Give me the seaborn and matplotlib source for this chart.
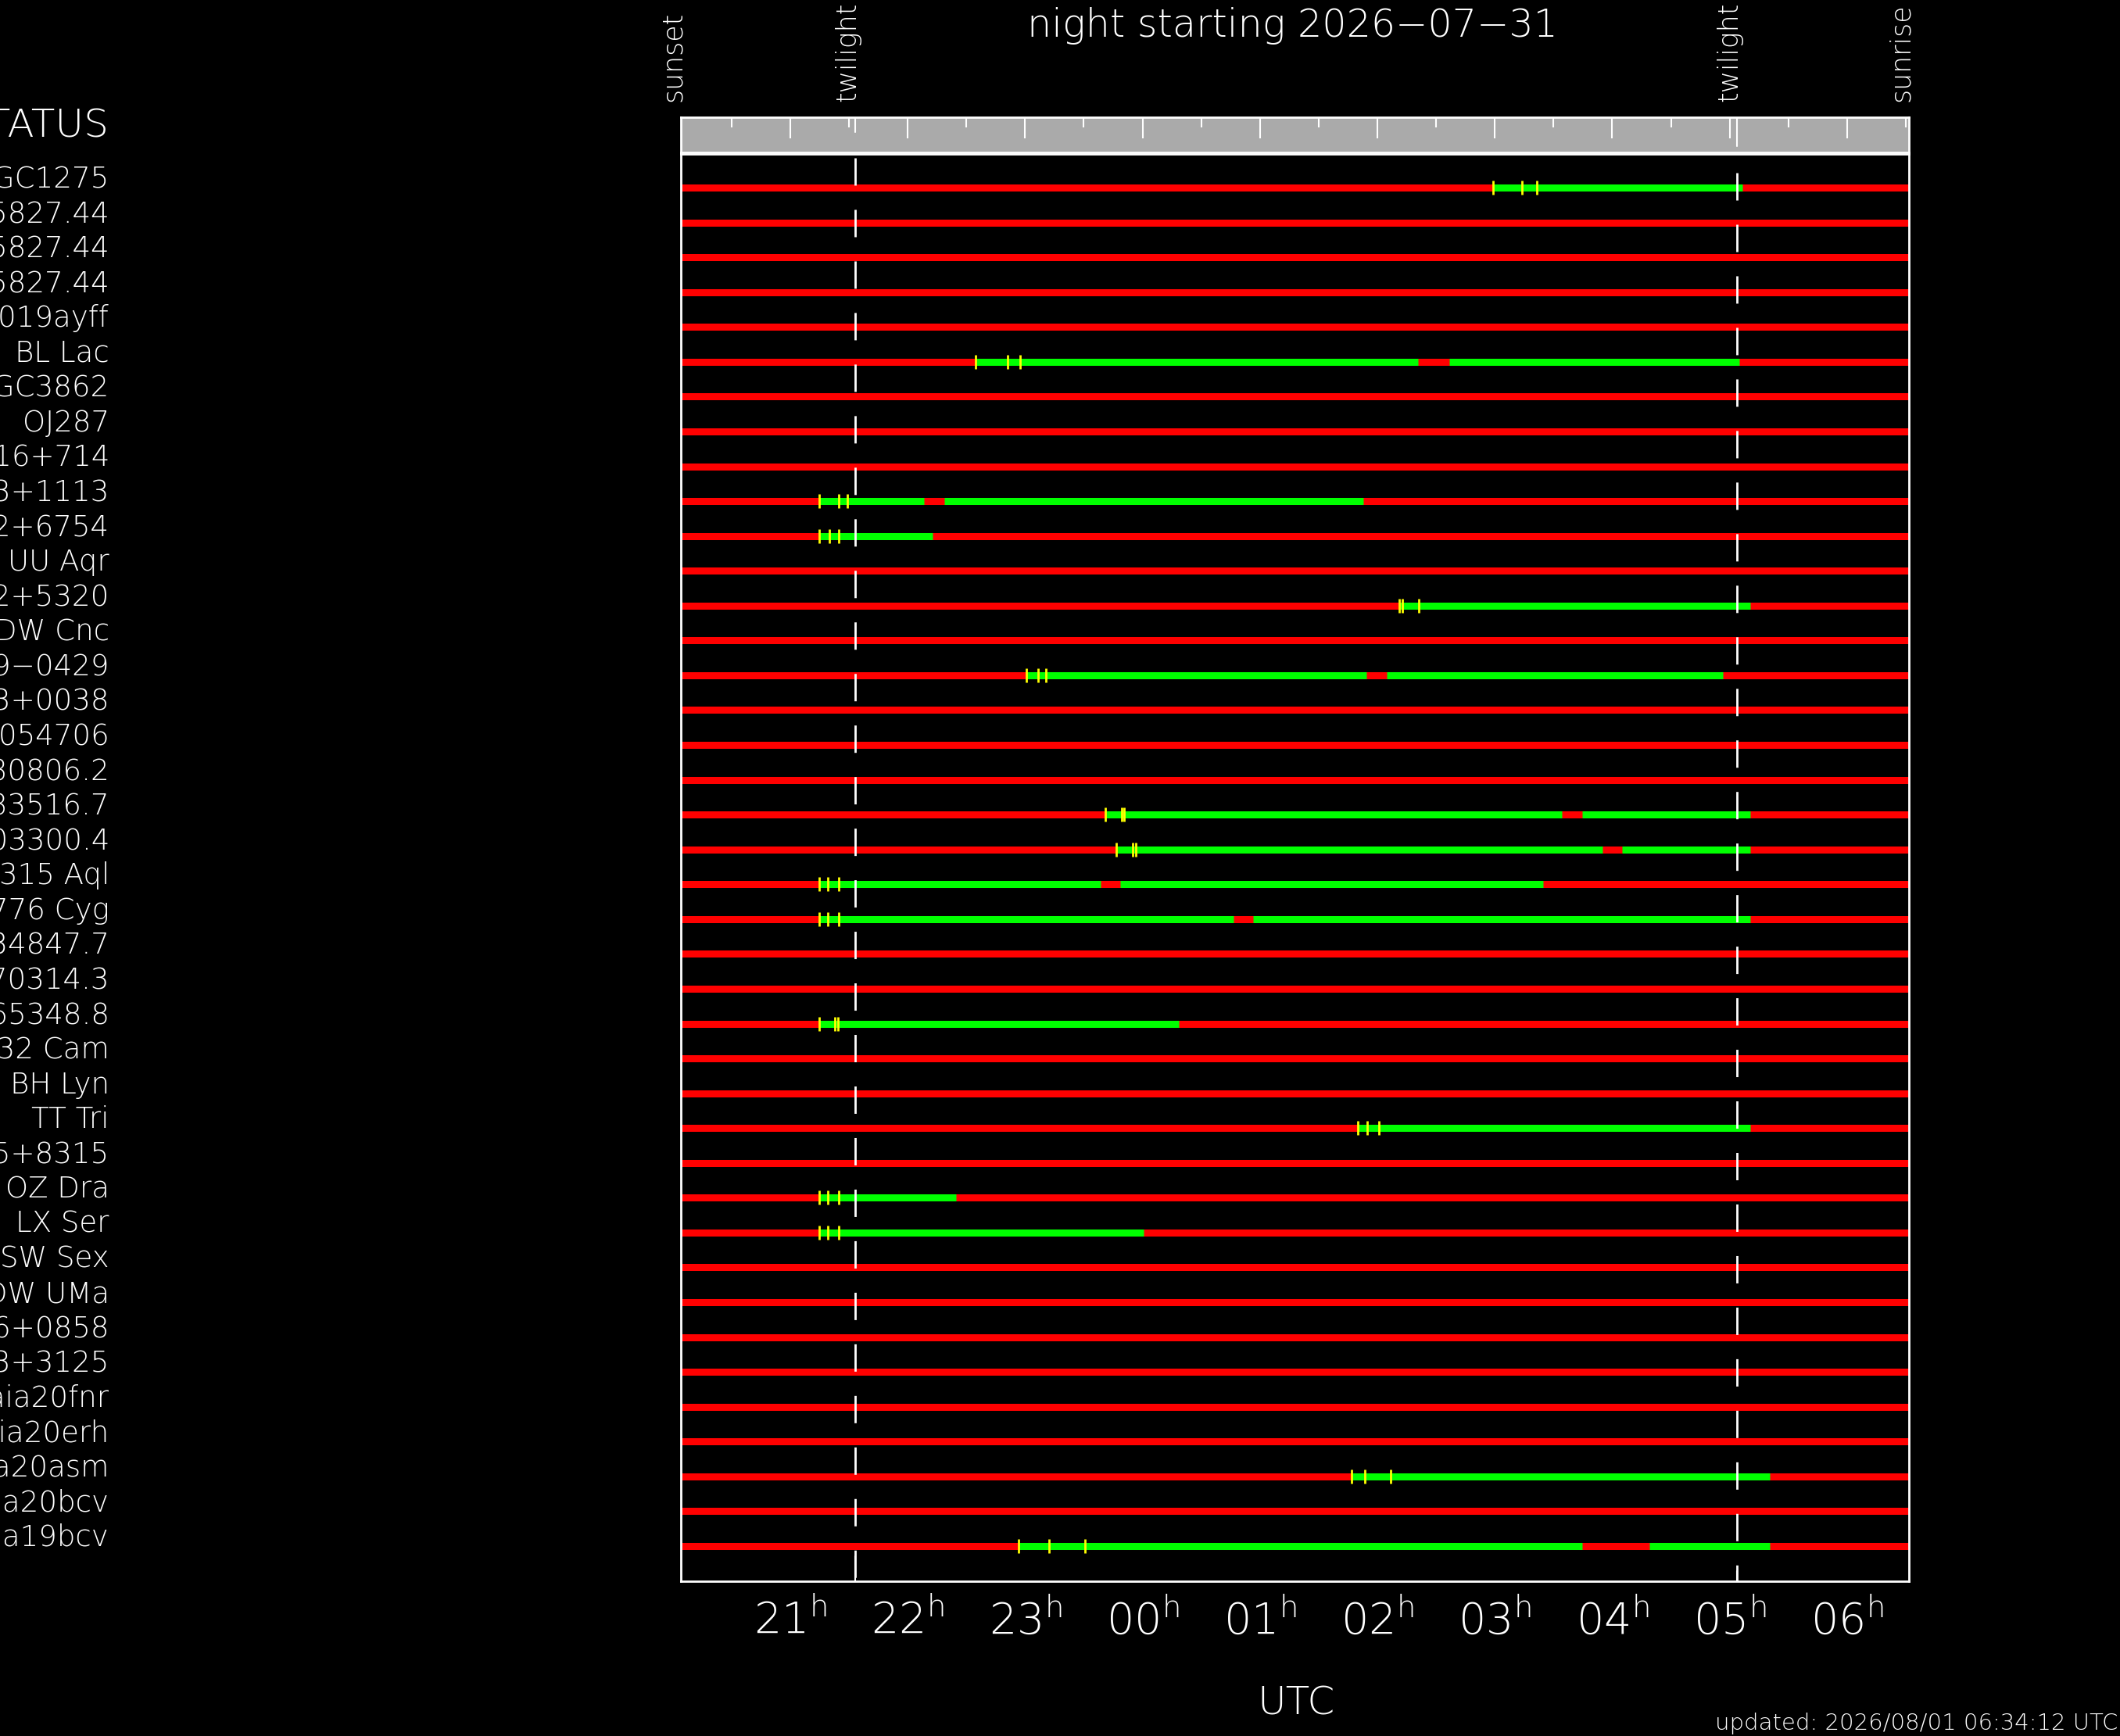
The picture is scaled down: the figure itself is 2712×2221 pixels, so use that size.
import matplotlib
matplotlib.use("Agg")
import pandas as pd
from matplotlib import pyplot as plt
from matplotlib.transforms import blended_transform_factory
import seaborn as sns

# %%
# targets, top to bottom
names = ["NGC1275", "SDSS J155827.44", "SDSS J155827.44", "SDSS J155827.44",
         "AT2019ayff", "BL Lac", "NGC3862", "OJ287", "S5 0716+714",
         "J0723+1113", "J1642+6754", "UU Aqr", "J1452+5320", "DW Cnc",
         "J2129−0429", "J1823+0038", "SDSS J054706", "1RXS J180806.2",
         "1RXS J083516.7", "SDSS J103300.4", "V1315 Aql", "V1776 Cyg",
         "SDSS J134847.7", "1RXS J070314.3", "SDSS J165348.8", "V0432 Cam",
         "BH Lyn", "TT Tri", "J0645+8315", "OZ Dra", "LX Ser", "SW Sex",
         "DW UMa", "J0806+0858", "J2133+3125", "Gaia20fnr", "Gaia20erh",
         "Gaia20asm", "Gaia20bcv", "Gaia19bcv"]

# night events, hours UTC (after midnight counted as 24+)
sunset = 20.068
sunrise = 30.524
twilight_eve = 21.551
twilight_morn = 29.061

hour_ticks = [21, 22, 23, 24, 25, 26, 27, 28, 29, 30]
hour_labels = ["21", "22", "23", "00", "01", "02", "03", "04", "05", "06"]
half_ticks = [20.5, 21.5, 22.5, 23.5, 24.5, 25.5, 26.5, 27.5, 28.5, 29.5, 30.5]

# observable windows (green)
green_row = [0, 5, 5, 9, 9, 10, 12, 14, 14, 18, 18, 19, 19, 20, 20,
             21, 21, 24, 27, 29, 30, 37, 39, 39]
green_start = [26.985, 22.578, 26.613, 21.246, 22.312, 21.246, 26.186,
               23.011, 26.080, 23.683, 27.744, 23.776, 28.084, 21.246,
               23.811, 21.246, 24.941, 21.246, 25.834, 21.246, 21.246,
               25.780, 22.944, 28.317]
green_end = [29.109, 26.346, 29.083, 22.138, 25.880, 22.212, 29.176,
             25.907, 28.943, 27.571, 29.176, 27.917, 29.176, 23.643,
             27.411, 24.775, 29.176, 24.309, 29.176, 22.411, 24.009,
             29.342, 27.744, 29.342]

# yellow markers at the start of each window
mark_row = [0, 0, 0, 5, 5, 5, 9, 9, 9, 10, 10, 10, 12, 12, 12,
            14, 14, 14, 18, 18, 18, 19, 19, 19, 20, 20, 20, 21, 21, 21,
            24, 24, 24, 27, 27, 27, 29, 29, 29, 30, 30, 30, 37, 37, 37,
            39, 39, 39]
mark_time = [26.985, 27.232, 27.358, 22.578, 22.851, 22.957,
             21.246, 21.413, 21.486, 21.246, 21.333, 21.413,
             26.186, 26.213, 26.353, 23.011, 23.111, 23.177,
             23.683, 23.823, 23.843, 23.776, 23.916, 23.943,
             21.246, 21.320, 21.413, 21.246, 21.320, 21.413,
             21.246, 21.380, 21.406, 25.834, 25.913, 26.013,
             21.246, 21.320, 21.413, 21.246, 21.320, 21.413,
             25.780, 25.893, 26.113, 22.944, 23.204, 23.510]

# %%
sns.set_style("dark", {"axes.facecolor": "black", "figure.facecolor": "black",
                       "axes.edgecolor": "white", "text.color": "white",
                       "xtick.color": "white", "ytick.color": "white",
                       "axes.grid": False})
plt.rcParams["font.family"] = ["DejaVu Sans"]
plt.rcParams["font.weight"] = "light"
plt.rcParams["lines.scale_dashes"] = False
plt.rcParams["mathtext.fontset"] = "dejavusans"

fig = plt.figure(figsize=(27.12, 22.21), dpi=100)
ax = fig.add_axes([0.32117, 0.08915, 0.57909, 0.82215])
bax = fig.add_axes([0.32117, 0.91220, 0.57909, 0.02026])

n = len(names)
base = pd.DataFrame({"t": [sunset, sunrise] * n,
                     "row": [r for r in range(n) for _ in range(2)],
                     "seg": [r for r in range(n) for _ in range(2)]})
green = pd.DataFrame({"t": [v for pair in zip(green_start, green_end) for v in pair],
                      "row": [r for r in green_row for _ in range(2)],
                      "seg": [i for i in range(len(green_row)) for _ in range(2)]})
marks = pd.DataFrame({"t": mark_time, "row": mark_row})

sns.lineplot(data=base, x="t", y="row", units="seg", estimator=None, sort=False,
             color="#ff0000", lw=6.5, solid_capstyle="butt", ax=ax, zorder=2)
sns.lineplot(data=green, x="t", y="row", units="seg", estimator=None, sort=False,
             color="#00ff00", lw=6.5, solid_capstyle="butt", ax=ax, zorder=3)
sns.scatterplot(data=marks, x="t", y="row", marker="|", s=150, color="#ffff00",
                linewidth=2, ax=ax, zorder=4)

ytop, ybot = -0.965, 40.01
ax.set_xlim(sunset, sunrise)
ax.set_ylim(ybot, ytop)

# twilight dashed lines, drawn from the top down
ax.plot([twilight_eve, twilight_eve], [ytop, ybot], color="white", lw=2,
        linestyle=(43.9, (25.2, 22.3)), zorder=5)
ax.plot([twilight_morn, twilight_morn], [ytop, ybot], color="white", lw=2,
        linestyle=(30.2, (25.2, 22.3)), zorder=5)

ax.set_xlabel("")
ax.set_ylabel("")
ax.set_yticks([])
ax.set_xticks(hour_ticks)
ax.set_xticklabels([r"$\mathregular{%s^{h}}$" % h for h in hour_labels], fontsize=40)
ax.set_xticks(half_ticks, minor=True)
ax.tick_params(axis="x", which="major", direction="in", length=19.4, width=1.5,
               color="white", pad=17, labelcolor="white")
ax.tick_params(axis="x", which="minor", direction="in", length=9.4, width=1.5,
               color="white")
for s in ax.spines.values():
    s.set_color("white")
    s.set_linewidth(2)
ax.axvline(twilight_eve, ymin=0, ymax=0.0175, color="white", lw=1.5)
ax.axvline(twilight_morn, ymin=0, ymax=0.0071, color="white", lw=1.5)

# grey band above the chart
bax.set_facecolor("#aaaaaa")
bax.set_xlim(sunset, sunrise)
bax.set_ylim(0, 1)
bax.set_yticks([])
bax.xaxis.tick_top()
bax.set_xticks(hour_ticks)
bax.set_xticks(half_ticks, minor=True)
bax.tick_params(axis="x", which="major", direction="in", length=19.4, width=1.5,
                color="white", labeltop=False, labelbottom=False)
bax.tick_params(axis="x", which="minor", direction="in", length=9.4, width=1.5,
                color="white", labeltop=False, labelbottom=False)
for s in bax.spines.values():
    s.set_color("white")
    s.set_linewidth(2)
bax.axvline(twilight_eve, ymin=0.578, ymax=1, color="white", lw=1.5)
bax.axvline(twilight_morn, ymin=0.178, ymax=1, color="white", lw=1.5)

# row labels, clipped by the figure edge as in the original
lab_tr = blended_transform_factory(fig.transFigure, ax.transData)
for i, nm in enumerate(names):
    ax.text(0.0516, i, nm, transform=lab_tr, ha="right", va="baseline",
            fontsize=26.7, color="white", clip_on=False)
fig.text(0.0513, 0.9212, "STATUS", ha="right", va="baseline", fontsize=36,
         color="white")

# event labels on top
ev_tr = blended_transform_factory(ax.transData, fig.transFigure)
for t, lab in [(sunset, "sunset"), (twilight_eve, "twilight"),
               (twilight_morn, "twilight"), (sunrise, "sunrise")]:
    ax.text(t, 0.9415, lab, transform=ev_tr, rotation=90, rotation_mode="anchor",
            ha="left", va="baseline", fontsize=25, color="white", clip_on=False)

fig.text(0.6097, 0.9788, "night starting 2026−07−31", ha="center", va="baseline",
         fontsize=35.5, color="white")
fig.text(0.6114, 0.0126, "UTC", ha="center", va="baseline", fontsize=36,
         color="white")
fig.text(0.9989, 0.0036, "updated: 2026/08/01 06:34:12 UTC", ha="right",
         va="baseline", fontsize=21, color="white")

fig.savefig("out.png", dpi=100, facecolor="black")
